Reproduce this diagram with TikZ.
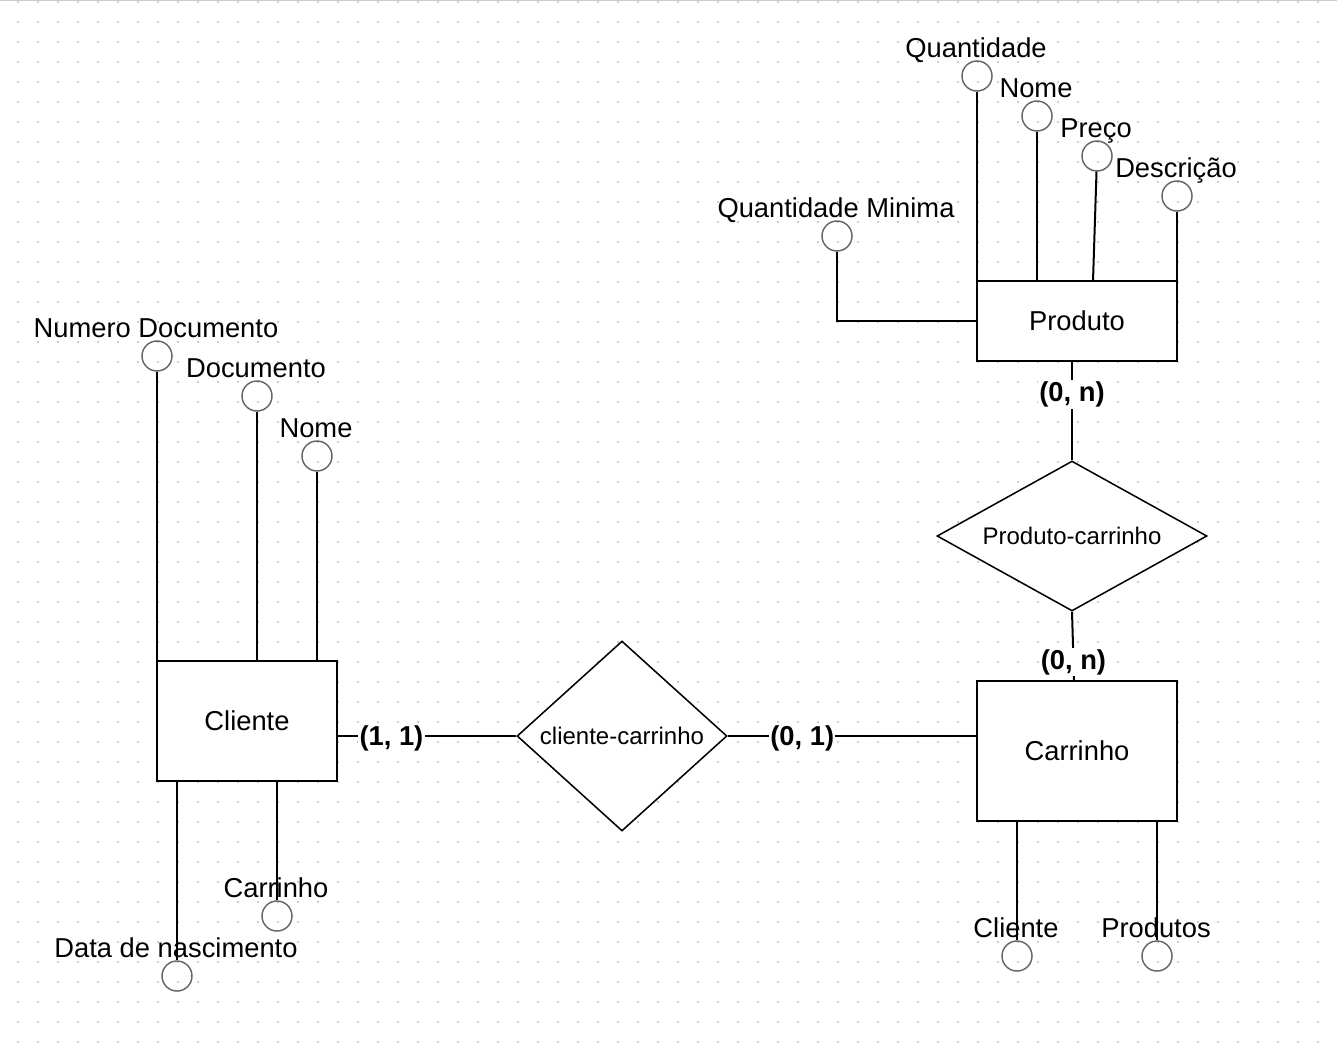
\documentclass[tikz,border=0pt]{standalone}
\usepackage{fontspec}
\setmainfont{Liberation Sans}
\usetikzlibrary{shapes.geometric}
\usetikzlibrary{calc}

\definecolor{pontos}{HTML}{CDCDCD}
\definecolor{circulo}{HTML}{666666}

\begin{document}
\begin{tikzpicture}[x=0.75pt,y=-0.75pt,
    entidade/.style={draw, line width=1.5pt, fill=white, font=\fontsize{20.5}{24}\selectfont},
    relacao/.style={draw, diamond, line width=1.15pt, fill=white, inner sep=0pt, font=\fontsize{18}{22}\selectfont},
    atributo/.style={draw=circulo, circle, line width=1.1pt, minimum size=22.5pt, inner sep=0pt},
    rotulo/.style={anchor=base, inner sep=0pt, font=\fontsize{20.5}{24}\selectfont},
    card/.style={fill=white, inner sep=1pt, yshift=-1.5pt, font=\bfseries\fontsize{20.5}{24}\selectfont},
    liga/.style={line width=1.5pt}]
      \useasboundingbox (0,0) rectangle (1337,1061);

      % grade de pontos
      \foreach \gx in {18,38,...,1318}
        \foreach \gy in {2,22,...,1042}
          \fill[pontos] (\gx-1,\gy-1) rectangle (\gx+1,\gy+1);
      \draw[pontos, line width=1pt] (0,0.5) -- (1337,0.5);

      % entidades
      \node[entidade, minimum width=135pt, minimum height=90pt] (cliente) at (247,721) {Cliente};
      \node[entidade, minimum width=150pt, minimum height=105pt] (carrinho) at (1077,751) {Carrinho};
      \node[entidade, minimum width=150pt, minimum height=60pt] (produto) at (1077,321) {Produto};

      % relacoes
      \node[relacao, aspect=1.1, minimum width=157.5pt, minimum height=142.5pt] (cliCar) at (622,736) {cliente-carrinho};
      \node[relacao, aspect=1.8, minimum width=202.5pt, minimum height=112.5pt] (prodCar) at (1072,536) {Produto-carrinho};

      % atributos de Cliente
      \node[atributo] (cliNumDoc) at (157,356) {};
      \node[rotulo] (cliNumDocT) at (156,337) {Numero Documento};
      \node[atributo] (cliDoc) at (257,396) {};
      \node[rotulo] (cliDocT) at (256,377) {Documento};
      \node[atributo] (cliNome) at (317,456) {};
      \node[rotulo] (cliNomeT) at (316,437) {Nome};
      \node[atributo] (cliData) at (177,976) {};
      \node[rotulo] (cliDataT) at (176,957) {Data de nascimento};
      \node[atributo] (cliCarr) at (277,916) {};
      \node[rotulo] (cliCarrT) at (276,897) {Carrinho};

      \draw[liga] (cliNumDoc) -- (cliNumDoc |- cliente.north);
      \draw[liga] (cliDoc) -- (cliDoc |- cliente.north);
      \draw[liga] (cliNome) -- (cliNome |- cliente.north);
      \draw[liga] (cliData |- cliente.south) -- (cliData);
      \draw[liga] (cliCarr |- cliente.south) -- (cliCarr);

      % atributos de Produto
      \node[atributo] (prodQtd) at (977,76) {};
      \node[rotulo] (prodQtdT) at (976,57) {Quantidade};
      \node[atributo] (prodNome) at (1037,116) {};
      \node[rotulo] (prodNomeT) at (1036,97) {Nome};
      \node[atributo] (prodPreco) at (1097,156) {};
      \node[rotulo] (prodPrecoT) at (1096,137) {Preço};
      \node[atributo] (prodDesc) at (1177,196) {};
      \node[rotulo] (prodDescT) at (1176,177) {Descrição};
      \node[atributo] (prodQtdMin) at (837,236) {};
      \node[rotulo] (prodQtdMinT) at (836,217) {Quantidade Minima};
      \coordinate (precoPe) at (1093,281);

      \draw[liga] (prodQtd) -- (prodQtd |- produto.north);
      \draw[liga] (prodNome) -- (prodNome |- produto.north);
      \draw[liga] (prodPreco) -- (precoPe);
      \draw[liga] (prodDesc) -- (prodDesc |- produto.north);
      \draw[liga] (prodQtdMin) |- (produto.west);

      % atributos de Carrinho
      \node[atributo] (carCli) at (1017,956) {};
      \node[rotulo] (carCliT) at (1016,937) {Cliente};
      \node[atributo] (carProd) at (1157,956) {};
      \node[rotulo] (carProdT) at (1156,937) {Produtos};

      \draw[liga] (carCli |- carrinho.south) -- (carCli);
      \draw[liga] (carProd |- carrinho.south) -- (carProd);

      % ligacoes com cardinalidade
      \draw[liga] (cliente.east |- cliCar.west) -- node[card, pos=0.3] {(1, 1)} (cliCar.west);
      \draw[liga] (cliCar.east) -- node[card, pos=0.3] {(0, 1)} (carrinho.west |- cliCar.east);
      \draw[liga] (prodCar.north |- produto.south) -- node[card, pos=0.31] {(0, n)} (prodCar.north);
      \draw[liga] (prodCar.south) -- node[card, pos=0.71] {(0, n)} ([xshift=1.5pt]prodCar.south |- carrinho.north);
    \end{tikzpicture}
\end{document}
